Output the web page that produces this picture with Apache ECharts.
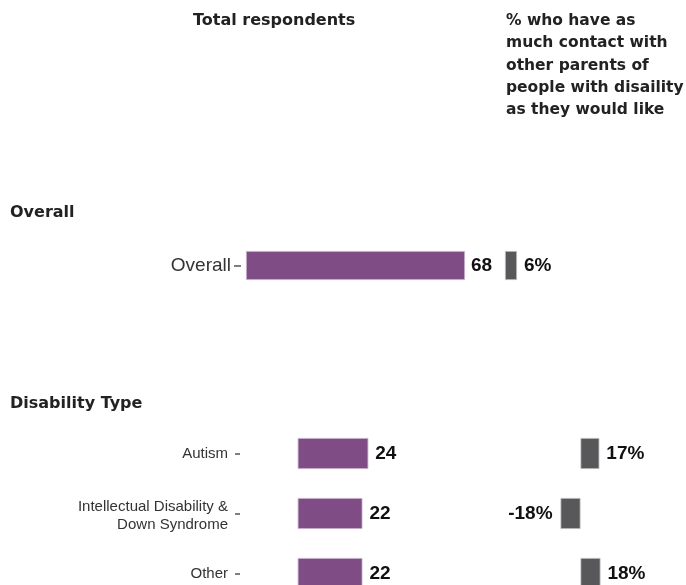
<!DOCTYPE html>
<html>
<head>
<meta charset="utf-8">
<script src="https://cdn.jsdelivr.net/npm/echarts@6/dist/echarts.min.js"></script>
<style>html,body{margin:0;padding:0;background:#fff;overflow:hidden;}#c{width:686px;height:640px;}</style>
</head>
<body>
<div id="c"></div>
<script>
const overallCats = ['Overall'];
const overallTotal = [68];
const overallPct = [6];
const typeCats = ['Autism', 'Intellectual Disability &\nDown Syndrome', 'Other'];
const typeTotal = [24, 22, 22];
const typePct = [17, -18, 18];

const PURPLE = '#7f4c86';
const GREY = '#58585a';
const headFont = 'DejaVu Sans';
const bodyFont = 'Liberation Sans';

function valLabel(fmt) {
  return {
    show: true, position: 'right', distance: 6,
    fontFamily: bodyFont, fontWeight: 'bold', fontSize: 19, color: '#111',
    formatter: fmt
  };
}
function pctData(arr) {
  return arr.map(v => ({
    value: v,
    label: v < 0 ? { position: 'left', distance: 8 } : { position: 'right', distance: 7 }
  }));
}

// purple scales (px per unit)
const s0 = 3.2206, s2 = 2.942;
const ax0 = 241, zero0 = 246;   // overall: axis x, zero x
const ax2 = 240, zero2 = 297.7; // disability: axis x, zero x
const min0 = -(zero0 - ax0) / s0, max0 = 70;
const min2 = -(zero2 - ax2) / s2, max2 = 30;

const chart = echarts.init(document.getElementById('c'), null, { renderer: 'canvas' });
chart.setOption({
  animation: false,
  backgroundColor: '#fff',
  grid: [
    { left: ax0, width: (max0 - min0) * s0, top: 235.5, height: 60 },
    { left: 505, width: 20, top: 235.5, height: 60 },
    { left: ax2, width: (max2 - min2) * s2, top: 423.5, height: 180 },
    { left: 558.3, width: 44.4, top: 423.5, height: 180 }
  ],
  xAxis: [
    { gridIndex: 0, type: 'value', min: min0, max: max0, show: false },
    { gridIndex: 1, type: 'value', min: 0, max: 10, show: false },
    { gridIndex: 2, type: 'value', min: min2, max: max2, show: false },
    { gridIndex: 3, type: 'value', min: -20, max: 20, show: false }
  ],
  yAxis: [
    { gridIndex: 0, type: 'category', data: overallCats, inverse: true,
      axisLine: { show: false, onZero: false },
      axisTick: { show: true, alignWithLabel: true, length: 7, lineStyle: { color: '#555', width: 1.5 } },
      axisLabel: { margin: 10, fontFamily: bodyFont, fontSize: 19, color: '#333' } },
    { gridIndex: 1, type: 'category', data: overallCats, inverse: true, show: false },
    { gridIndex: 2, type: 'category', data: typeCats, inverse: true,
      axisLine: { show: false, onZero: false },
      axisTick: { show: true, alignWithLabel: true, length: 5, lineStyle: { color: '#555', width: 1.5 } },
      axisLabel: {
        margin: 12, align: 'right',
        formatter: v => v.indexOf('\n') >= 0 ? '{lo|' + v.split('\n').join('}\n{lo|') + '}' : '{n|' + v + '}',
        rich: {
          n: { fontFamily: bodyFont, fontSize: 15, color: '#333', lineHeight: 18 },
          lo: { fontFamily: bodyFont, fontSize: 15, color: '#333', lineHeight: 18, padding: [5, 0, 0, 0] }
        }
      } },
    { gridIndex: 3, type: 'category', data: typeCats, inverse: true, show: false }
  ],
  series: [
    { type: 'bar', xAxisIndex: 0, yAxisIndex: 0, data: overallTotal, barWidth: 29,
      itemStyle: { color: PURPLE, borderColor: '#c7b0cb', borderWidth: 0.8 },
      label: valLabel('{c}') },
    { type: 'bar', xAxisIndex: 1, yAxisIndex: 1, data: pctData(overallPct), barWidth: 29,
      itemStyle: { color: GREY, borderColor: '#bbbbbb', borderWidth: 0.8 },
      label: valLabel('{c}%') },
    { type: 'bar', xAxisIndex: 2, yAxisIndex: 2, data: typeTotal, barWidth: 31,
      itemStyle: { color: PURPLE, borderColor: '#c7b0cb', borderWidth: 0.8 },
      label: Object.assign(valLabel('{c}'), { distance: 7 }) },
    { type: 'bar', xAxisIndex: 3, yAxisIndex: 3, data: pctData(typePct), barWidth: 31,
      itemStyle: { color: GREY, borderColor: '#bbbbbb', borderWidth: 0.8 },
      label: valLabel('{c}%') }
  ],
  graphic: [
    { type: 'text', left: 193, top: 13,
      style: { text: 'Total respondents', fontFamily: headFont, fontWeight: 'bold', fontSize: 16, fill: '#222' } },
    { type: 'text', left: 506, top: 10,
      style: { text: '% who have as\nmuch contact with\nother parents of\npeople with disaility\nas they would like',
        fontFamily: headFont, fontWeight: 'bold', fontSize: 15.5, lineHeight: 22.3, fill: '#222' } },
    { type: 'text', left: 10, top: 205,
      style: { text: 'Overall', fontFamily: headFont, fontWeight: 'bold', fontSize: 16, fill: '#222' } },
    { type: 'text', left: 10, top: 396,
      style: { text: 'Disability Type', fontFamily: headFont, fontWeight: 'bold', fontSize: 16, fill: '#222' } }
  ]
});
</script>
</body>
</html>
